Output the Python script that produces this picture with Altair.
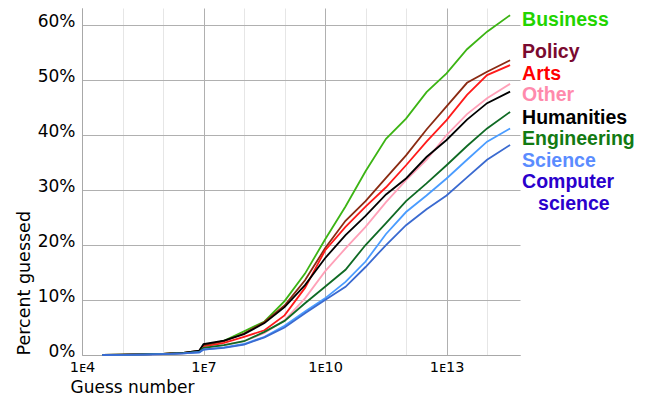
import altair as alt
import pandas as pd

# ---- data ----
guesses = [3.2e4, 1e5, 3.2e5, 1e6, 3.2e6, 7.9e6, 1e7, 3.2e7, 1e8, 3.2e8, 1e9, 3.2e9,
           1e10, 3.2e10, 1e11, 3.2e11, 1e12, 3.2e12, 1e13, 3.2e13, 1e14, 3.7e14]

series = ["Business", "Policy", "Arts", "Other", "Humanities",
          "Engineering", "Science", "Computer science"]

business = [0.0, 0.05, 0.1, 0.2, 0.4, 0.7, 1.6, 2.6, 4.3, 6.1, 9.8, 14.8,
            21.0, 27.0, 33.4, 39.3, 43.0, 47.8, 51.2, 55.6, 58.8, 61.8]
policy = [0.0, 0.05, 0.1, 0.2, 0.4, 0.8, 1.8, 2.5, 3.9, 6.0, 9.0, 13.6,
          19.4, 24.4, 28.0, 32.2, 36.3, 41.0, 45.2, 49.5, 51.5, 53.6]
arts = [0.0, 0.04, 0.1, 0.2, 0.35, 0.7, 1.5, 2.2, 3.3, 4.5, 7.2, 12.2,
        19.0, 23.3, 27.0, 30.5, 34.5, 38.8, 42.7, 47.3, 50.9, 52.7]
other = [0.0, 0.03, 0.08, 0.15, 0.3, 0.6, 1.3, 1.8, 2.5, 4.0, 6.3, 10.3,
         15.2, 19.4, 23.3, 27.8, 31.8, 35.5, 40.0, 43.8, 46.7, 49.3]
humanities = [0.0, 0.05, 0.1, 0.2, 0.4, 0.8, 2.0, 2.6, 3.8, 5.8, 8.7, 12.7,
              17.6, 21.8, 25.3, 29.2, 32.1, 36.0, 39.1, 42.8, 45.8, 47.9]
engineering = [0.0, 0.04, 0.1, 0.2, 0.35, 0.6, 1.3, 1.8, 2.5, 4.2, 6.2, 9.4,
               12.4, 15.5, 20.0, 24.0, 28.0, 31.2, 34.5, 38.0, 41.2, 44.2]
science = [0.0, 0.03, 0.07, 0.15, 0.3, 0.5, 1.0, 1.4, 2.0, 3.3, 5.3, 7.9,
           10.3, 13.3, 17.0, 22.0, 26.0, 29.0, 32.1, 35.5, 38.8, 41.2]
computer_science = [0.0, 0.03, 0.07, 0.15, 0.3, 0.5, 1.0, 1.3, 1.9, 3.2, 5.0, 7.6,
                    10.0, 12.4, 16.0, 20.0, 23.6, 26.5, 29.0, 32.3, 35.5, 38.2]

values = [business, policy, arts, other, humanities, engineering, science, computer_science]

x_ticks = [1e4, 1e5, 1e6, 1e7, 1e8, 1e9, 1e10, 1e11, 1e12, 1e13, 1e14]
y_ticks = [0, 10, 20, 30, 40, 50, 60]

label_text = ["Business", "Policy", "Arts", "Other", "Humanities",
              "Engineering", "Science", "Computer"]

# ---- layout / style ----
line_colors = ["#3cb414", "#8a2a12", "#ff1a1a", "#ffa0b8", "#000000",
               "#0f6a24", "#4a9cff", "#3a6ad0"]
label_colors = ["#22d400", "#7a0a30", "#ff0000", "#ff8aac", "#000000",
                "#127a12", "#5a8cff", "#2a00cc"]
label_y = [59.9, 54.0, 50.0, 46.1, 42.0, 38.1, 34.2, 30.3]   # label baselines, in % units
label_y_second = [26.4]

rows = []
for s, vals in zip(series, values):
    for g, v in zip(guesses, vals):
        rows.append({"guess": g, "pct": v, "series": s})
lines_df = pd.DataFrame(rows)

labels_df = pd.DataFrame({
    "series": series,
    "label": label_text,
    "guess": [guesses[-1]] * len(series),
    "pct": label_y,
})
labels2_df = pd.DataFrame({
    "series": ["Computer science"],
    "label": ["science"],
    "guess": [guesses[-1]],
    "pct": label_y_second,
})

x_scale = alt.Scale(type="log", domain=[1e4, 6.5e14], nice=False)
y_scale = alt.Scale(domain=[0, 63.1], nice=False, zero=True)

decade = "round(log(datum.value)/LN10)"

x_axis = alt.Axis(
    values=x_ticks,
    labelExpr=f"({decade} % 3 == 1) ? '1\u1d07' + {decade} : ''",
    grid=True,
    gridColor={"condition": {"test": f"{decade} % 3 == 1", "value": "#b0b0b0"},
               "value": "#e6e6e6"},
    gridWidth=1,
    ticks=False,
    domainColor="#a8a8a8",
    labelFont="DejaVu Sans",
    labelFontSize=14.5,
    labelColor="#000000",
    labelPadding=5,
    labelFlush=False,
    labelOverlap=False,
    title="Guess number",
    titleFont="DejaVu Sans",
    titleFontSize=17,
    titleFontWeight="normal",
    titleColor="#000000",
    titleAlign="left",
    titleAnchor="start",
    titleBaseline="alphabetic",
    titleX=-12,
    titleY=37,
)

y_axis = alt.Axis(
    values=y_ticks,
    labelExpr="datum.value + '%'",
    grid=True,
    gridColor="#b0b0b0",
    ticks=False,
    domainColor="#a8a8a8",
    labelFont="DejaVu Sans",
    labelFontSize=17,
    labelColor="#000000",
    labelPadding=7,
    labelBaseline="alphabetic",
    labelOffset=1,
    labelFlush=False,
    title="Percent guessed",
    titleFont="DejaVu Sans",
    titleFontSize=17.5,
    titleFontWeight="normal",
    titleColor="#000000",
    titleAnchor="start",
    titlePadding=4,
)

lines = alt.Chart(lines_df).mark_line(strokeWidth=1.8).encode(
    x=alt.X("guess:Q", scale=x_scale, axis=x_axis),
    y=alt.Y("pct:Q", scale=y_scale, axis=y_axis),
    color=alt.Color("series:N", scale=alt.Scale(domain=series, range=line_colors), legend=None),
    detail="series:N",
)

labels = alt.Chart(labels_df).mark_text(
    align="left", baseline="alphabetic", dx=12,
    font="Liberation Sans", fontSize=19.5, fontWeight="bold",
).encode(
    x=alt.X("guess:Q", scale=x_scale, axis=x_axis),
    y=alt.Y("pct:Q", scale=y_scale, axis=y_axis),
    text="label:N",
    color=alt.Color("series:N", scale=alt.Scale(domain=series, range=label_colors), legend=None),
)

labels2 = alt.Chart(labels2_df).mark_text(
    align="left", baseline="alphabetic", dx=28,
    font="Liberation Sans", fontSize=19.5, fontWeight="bold",
).encode(
    x=alt.X("guess:Q", scale=x_scale, axis=x_axis),
    y=alt.Y("pct:Q", scale=y_scale, axis=y_axis),
    text="label:N",
    color=alt.Color("series:N", scale=alt.Scale(domain=series, range=label_colors), legend=None),
)

chart = alt.layer(lines, labels, labels2).resolve_scale(color="independent").properties(
    width=438,
    height=347,
    autosize=alt.AutoSizeParams(type="none"),
    padding={"left": 74, "top": 0, "right": 125, "bottom": 43},
).configure_view(strokeWidth=0)

chart.save("out.html", embed_options={"renderer": "svg", "actions": False})
